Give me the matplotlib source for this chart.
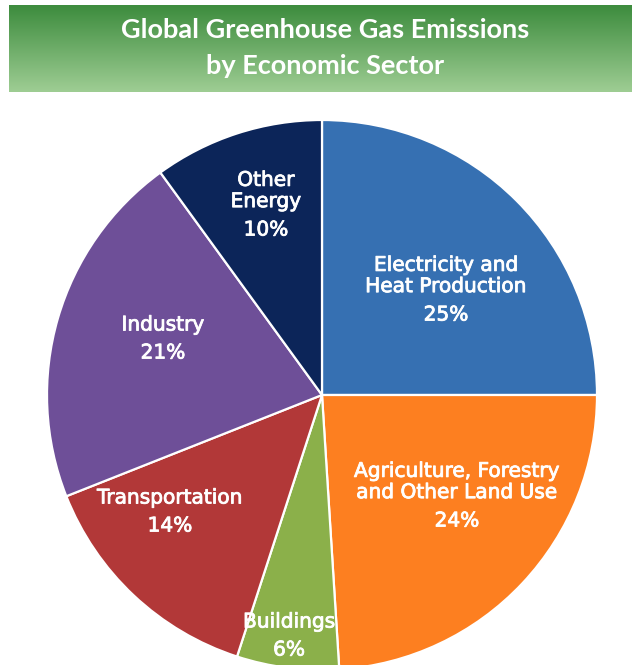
import numpy as np
import matplotlib.pyplot as plt
import matplotlib.patheffects as pe
from matplotlib.colors import LinearSegmentedColormap

# sectors, shares (%) and slice colours, clockwise from 12 o'clock
sectors = ["Electricity and\nHeat Production",
           "Agriculture, Forestry\nand Other Land Use",
           "Buildings",
           "Transportation",
           "Industry",
           "Other\nEnergy"]
shares = [25, 24, 6, 14, 21, 10]
colors = ["#3670b2", "#fd7f20", "#8bb04a", "#b23838", "#6e4f98", "#0c2559"]

title = "Global Greenhouse Gas Emissions\nby Economic Sector"

W, H = 632, 665
fig = plt.figure(figsize=(W / 100, H / 100), dpi=100)
ax = fig.add_axes([0, 0, 1, 1])

# pie in pixel-like coordinates, y upwards
cx, cy, R = 322, H - 395, 275
wedges, _ = ax.pie(shares, colors=colors, startangle=90, counterclock=False,
                   center=(cx, cy), radius=R,
                   wedgeprops=dict(edgecolor="white", linewidth=1.6))

# centre of each label's first line (x, y from top)
label_pos = [(446, 265), (457, 471), (289, 622), (170, 498), (163, 325), (266, 180)]
line_step = 22
bold_ish = [pe.withStroke(linewidth=0.6, foreground="white")]
for name, share, (lx, ly) in zip(sectors, shares, label_pos):
    n = name.count("\n") + 1
    ax.text(lx, H - (ly + line_step * (n - 1) / 2), name, ha="center", va="center",
            color="white", fontsize=14.5, linespacing=1.15, family="DejaVu Sans",
            path_effects=bold_ish)
    ax.text(lx, H - (ly + line_step * (n - 1) + 28), f"{share}%", ha="center",
            va="center", color="white", fontsize=14.5, family="DejaVu Sans",
            path_effects=bold_ish)

# green gradient banner behind the title
grad = np.linspace(0, 1, 100).reshape(-1, 1)
cmap = LinearSegmentedColormap.from_list("banner", ["#3d8c3e", "#9ecd93"])
ax.imshow(grad, cmap=cmap, aspect="auto", extent=[9, 632, H - 92, H - 5],
          origin="upper", zorder=3)
ax.text(325, H - 48, title, ha="center", va="center", color="white",
        fontsize=19.5, fontweight="bold", family="Lato", linespacing=1.55, zorder=4)

ax.set_xlim(0, W)
ax.set_ylim(0, H)
ax.set_aspect("equal")
ax.axis("off")

fig.savefig("out.png", dpi=100, facecolor="white")
